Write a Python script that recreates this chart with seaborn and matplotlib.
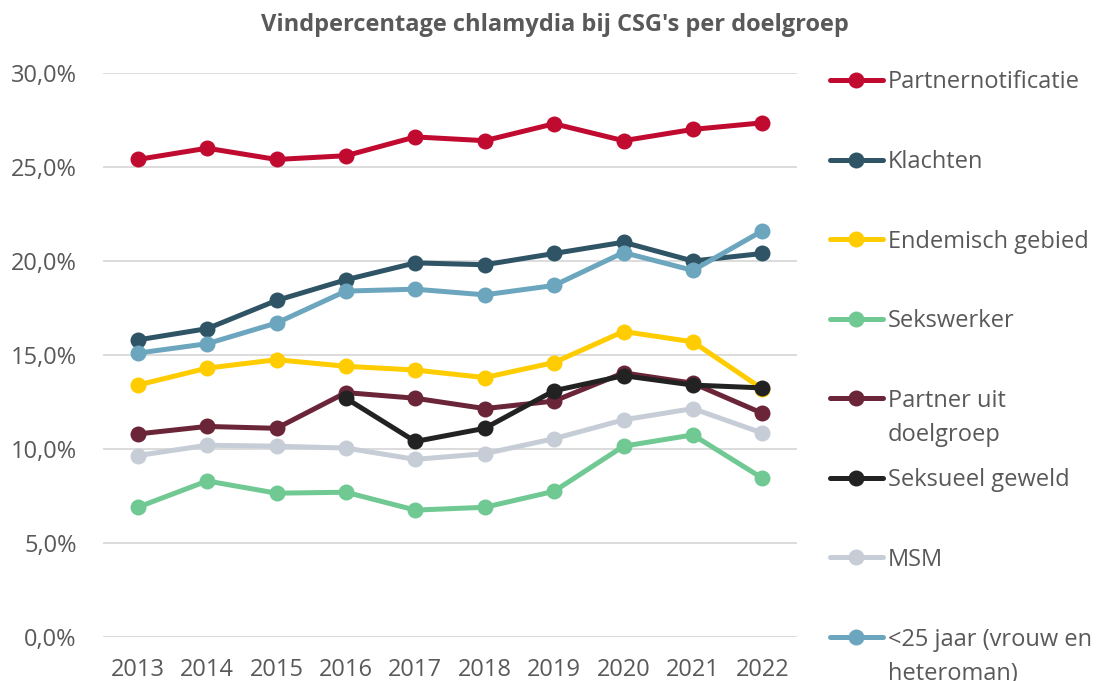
import pandas as pd
import matplotlib.pyplot as plt
from matplotlib.lines import Line2D
from matplotlib.ticker import FuncFormatter
import seaborn as sns

years = [2013, 2014, 2015, 2016, 2017, 2018, 2019, 2020, 2021, 2022]

groups = ["Partnernotificatie", "Klachten", "Endemisch gebied", "Sekswerker",
          "Partner uit\ndoelgroep", "Seksueel geweld", "MSM",
          "<25 jaar (vrouw en\nheteroman)"]

partnernotificatie = [25.4, 26.0, 25.4, 25.6, 26.6, 26.4, 27.3, 26.4, 27.0, 27.35]
klachten = [15.8, 16.4, 17.9, 19.0, 19.9, 19.8, 20.4, 21.0, 20.0, 20.4]
endemisch = [13.4, 14.3, 14.75, 14.4, 14.2, 13.8, 14.6, 16.25, 15.7, 13.2]
sekswerker = [6.9, 8.3, 7.65, 7.7, 6.75, 6.9, 7.75, 10.15, 10.75, 8.45]
partner_uit = [10.8, 11.2, 11.1, 13.0, 12.7, 12.15, 12.55, 14.05, 13.5, 11.9]
seksueel_geweld = [None, None, None, 12.7, 10.4, 11.1, 13.1, 13.9, 13.4, 13.25]
msm = [9.65, 10.2, 10.15, 10.05, 9.45, 9.75, 10.55, 11.55, 12.15, 10.85]
jonger_25 = [15.1, 15.6, 16.7, 18.4, 18.5, 18.2, 18.7, 20.45, 19.5, 21.6]

colors = ["#C00A30", "#2E5465", "#FFCC00", "#70C993", "#6B2538", "#222222",
          "#C6CDD6", "#6CA6BE"]

series = [partnernotificatie, klachten, endemisch, sekswerker, partner_uit,
          seksueel_geweld, msm, jonger_25]

rows = []
for g, vals in zip(groups, series):
    for y, v in zip(years, vals):
        if v is not None:
            rows.append({"jaar": y, "pct": v, "groep": g})
df = pd.DataFrame(rows)

sns.set_style("white")
plt.rcParams["font.family"] = ["Open Sans", "DejaVu Sans"]
text_color = "#595959"
fs = 17

fig = plt.figure(figsize=(10.99, 6.81), dpi=100)
ax = fig.add_axes([103 / 1099, 1 - 637 / 681, (797 - 103) / 1099, (637 - 73) / 681])

sns.lineplot(data=df, x="jaar", y="pct", hue="groep", hue_order=groups,
             palette=colors, marker="o", markersize=11.5, linewidth=3.6,
             markeredgewidth=0, legend=False, ax=ax)

ax.set_xlim(2012.5, 2022.5)
ax.set_ylim(0, 30)
ax.set_xticks(years)
ax.set_yticks([0, 5, 10, 15, 20, 25, 30])
ax.yaxis.set_major_formatter(FuncFormatter(lambda v, p: f"{v:.1f}%".replace(".", ",")))
ax.grid(axis="y", color="#D9D9D9", linewidth=1.3)
ax.set_axisbelow(True)
for s in ax.spines.values():
    s.set_visible(False)
ax.tick_params(axis="both", length=0, labelsize=fs, colors=text_color)
ax.tick_params(axis="y", pad=19)
ax.tick_params(axis="x", pad=15)
ax.set_xlabel("")
ax.set_ylabel("")

fig.suptitle("Vindpercentage chlamydia bij CSG's per doelgroep", x=0.505,
             y=1 - 25 / 681, va="center", fontsize=fs, fontweight="bold",
             color=text_color)

# legend on the right, one row per group, first text line level with the marker
top, bottom = 1 - 80 / 681, 1 - 637 / 681
step = (top - bottom) / (len(groups) - 1)
for i, (g, c) in enumerate(zip(groups, colors)):
    yy = top - i * step
    fig.add_artist(Line2D([830 / 1099, 883 / 1099], [yy, yy], color=c,
                          linewidth=3.6, solid_capstyle="round"))
    fig.add_artist(Line2D([856 / 1099], [yy], color=c, marker="o",
                          markersize=11.5, markeredgewidth=0))
    for j, line in enumerate(g.split("\n")):
        fig.text(888 / 1099, yy - (8.5 + 34 * j) / 681, line, fontsize=fs,
                 color=text_color, va="baseline", ha="left")

fig.savefig("out.png", dpi=100)
